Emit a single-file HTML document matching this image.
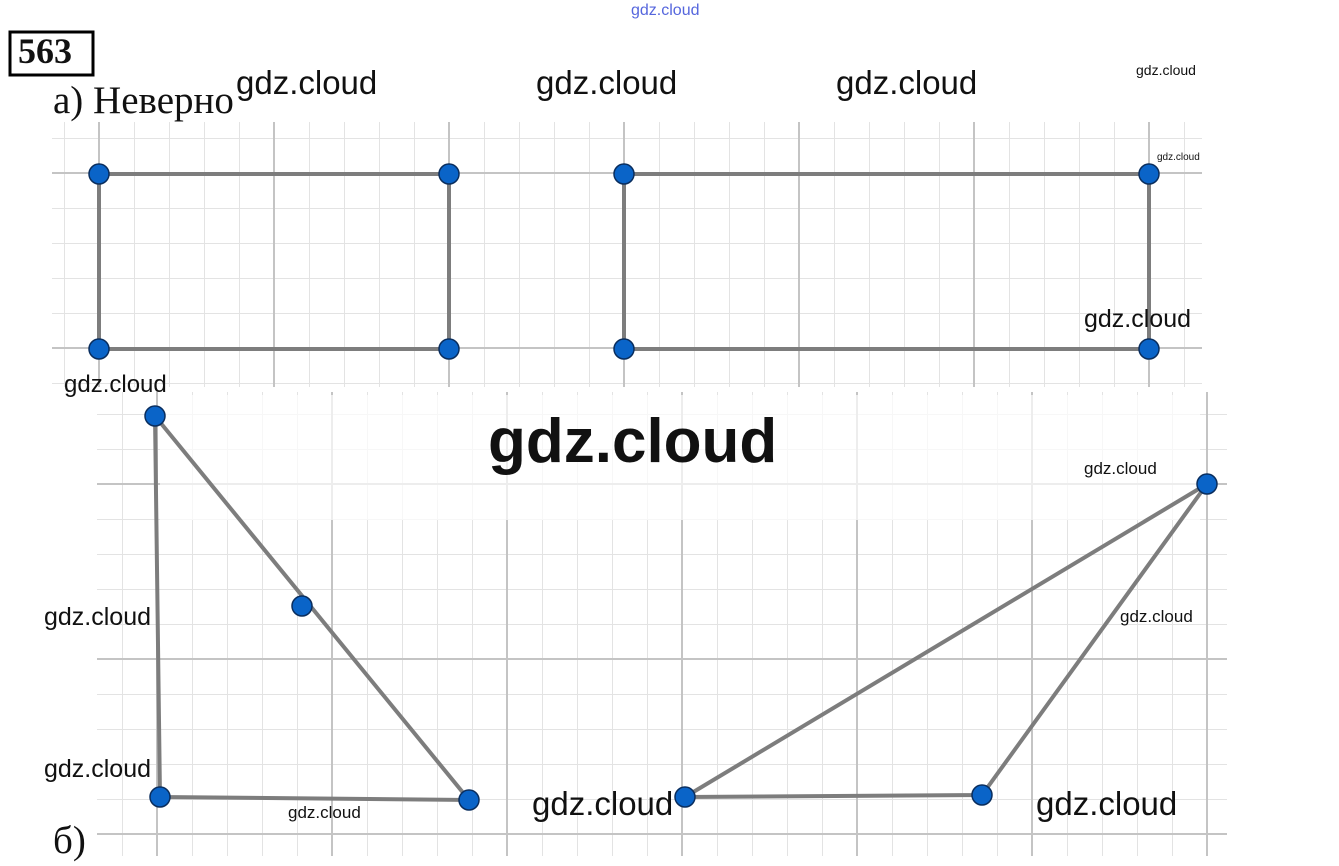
<!DOCTYPE html><html><head><meta charset="utf-8"><style>
body{margin:0;background:#fff;width:1339px;height:866px;overflow:hidden;position:relative;font-family:"Liberation Sans",sans-serif}
.w{position:absolute;font-family:"Liberation Sans","DejaVu Sans",sans-serif;color:#111;white-space:nowrap}
</style></head><body>
<svg width="1339" height="866" style="position:absolute;left:0;top:0">
<defs>
<pattern id="pa" x="99" y="173" width="35" height="35" patternUnits="userSpaceOnUse"><path d="M0 0V35M0 0H35" stroke="#e3e3e3" stroke-width="2" fill="none"/></pattern>
<pattern id="pb" x="157" y="484" width="35" height="35" patternUnits="userSpaceOnUse"><path d="M0 0V35M0 0H35" stroke="#e3e3e3" stroke-width="2" fill="none"/></pattern>
</defs>
<rect x="52" y="122" width="1150" height="265" fill="url(#pa)"/>
<g stroke="#c4c4c4" stroke-width="2">
<line x1="99" y1="122" x2="99" y2="387"/><line x1="274" y1="122" x2="274" y2="387"/><line x1="449" y1="122" x2="449" y2="387"/><line x1="624" y1="122" x2="624" y2="387"/><line x1="799" y1="122" x2="799" y2="387"/><line x1="974" y1="122" x2="974" y2="387"/><line x1="1149" y1="122" x2="1149" y2="387"/>
<line x1="52" y1="173" x2="1202" y2="173"/><line x1="52" y1="348" x2="1202" y2="348"/>
</g>
<rect x="97" y="392" width="1130" height="464" fill="url(#pb)"/>
<g stroke="#c4c4c4" stroke-width="2">
<line x1="157" y1="392" x2="157" y2="856"/><line x1="332" y1="392" x2="332" y2="856"/><line x1="507" y1="392" x2="507" y2="856"/><line x1="682" y1="392" x2="682" y2="856"/><line x1="857" y1="392" x2="857" y2="856"/><line x1="1032" y1="392" x2="1032" y2="856"/><line x1="1207" y1="392" x2="1207" y2="856"/>
<line x1="97" y1="484" x2="1227" y2="484"/><line x1="97" y1="659" x2="1227" y2="659"/><line x1="97" y1="834" x2="1227" y2="834"/>
</g>
<rect x="160" y="395" width="1040" height="125" fill="#fff" opacity="0.7"/>
<g stroke="#7d7d7d" stroke-width="4" fill="none">
<rect x="99" y="174" width="350" height="175"/>
<rect x="624" y="174" width="525" height="175"/>
<polyline points="155,416 469,800 160,797 155,416"/>
<polyline points="685,797 982,795 1207,484 685,797"/>
</g>
<g fill="#0a64c8" stroke="#0a2e5e" stroke-width="1.5">
<circle cx="99" cy="174" r="10"/><circle cx="449" cy="174" r="10"/><circle cx="99" cy="349" r="10"/><circle cx="449" cy="349" r="10"/>
<circle cx="624" cy="174" r="10"/><circle cx="1149" cy="174" r="10"/><circle cx="624" cy="349" r="10"/><circle cx="1149" cy="349" r="10"/>
<circle cx="155" cy="416" r="10"/><circle cx="302" cy="606" r="10"/><circle cx="160" cy="797" r="10"/><circle cx="469" cy="800" r="10"/>
<circle cx="685" cy="797" r="10"/><circle cx="982" cy="795" r="10"/><circle cx="1207" cy="484" r="10"/>
</g>
<rect x="10" y="32" width="83" height="43" fill="none" stroke="#000" stroke-width="3"/>
</svg>
<div class="w" style="left:18px;top:30px;font:bold 36px 'Liberation Serif',serif">563</div>
<div class="w" style="left:53px;top:78px;font:39px 'Liberation Serif','Noto Serif CJK SC',serif">а) Неверно</div>
<div class="w" style="left:53px;top:818px;font:39px 'Liberation Serif','Noto Serif CJK SC',serif">б)</div>
<div class="w" style="left:631px;top:2px;font-size:16px;color:#5566dd">gdz.cloud</div>
<div class="w" style="left:236px;top:64px;font-size:33px">gdz.cloud</div>
<div class="w" style="left:536px;top:64px;font-size:33px">gdz.cloud</div>
<div class="w" style="left:836px;top:64px;font-size:33px">gdz.cloud</div>
<div class="w" style="left:1136px;top:62px;font-size:14px">gdz.cloud</div>
<div class="w" style="left:1157px;top:152px;font-size:10px">gdz.cloud</div>
<div class="w" style="left:1084px;top:305px;font-size:25px">gdz.cloud</div>
<div class="w" style="left:64px;top:371px;font-size:24px">gdz.cloud</div>
<div class="w" style="left:488px;top:406px;font-size:62px;font-weight:bold">gdz.cloud</div>
<div class="w" style="left:1084px;top:459px;font-size:17px">gdz.cloud</div>
<div class="w" style="left:1120px;top:607px;font-size:17px">gdz.cloud</div>
<div class="w" style="left:44px;top:603px;font-size:25px">gdz.cloud</div>
<div class="w" style="left:44px;top:755px;font-size:25px">gdz.cloud</div>
<div class="w" style="left:288px;top:803px;font-size:17px">gdz.cloud</div>
<div class="w" style="left:532px;top:785px;font-size:33px">gdz.cloud</div>
<div class="w" style="left:1036px;top:785px;font-size:33px">gdz.cloud</div>
</body></html>
